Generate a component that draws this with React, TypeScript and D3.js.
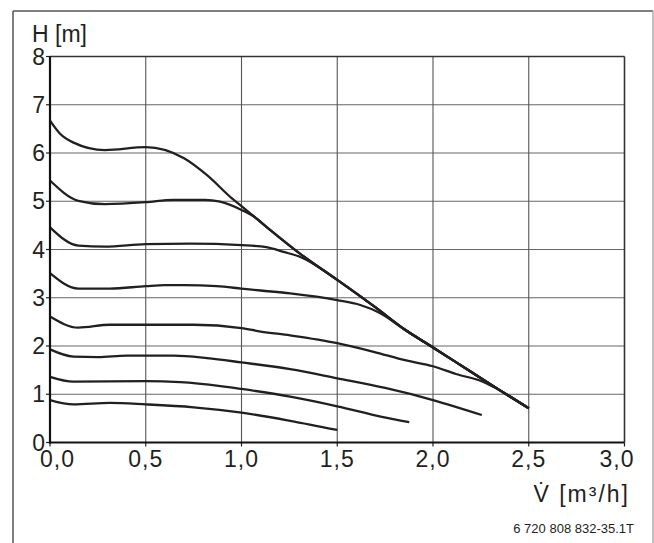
import React from "react";
import * as d3 from "d3";

// Flow rate V [m³/h] vs head H [m]
const xTicks = [0, 0.5, 1.0, 1.5, 2.0, 2.5, 3.0];
const xTickLabels = ["0,0", "0,5", "1,0", "1,5", "2,0", "2,5", "3,0"];
const yTicks = [0, 1, 2, 3, 4, 5, 6, 7, 8];
const yTickLabels = ["0", "1", "2", "3", "4", "5", "6", "7", "8"];

// common limit line (max curve envelope)
const envelope: [number, number][] = [
  [1.13, 4.47], [1.3, 3.93], [1.5, 3.37], [1.7, 2.8], [1.86, 2.32],
  [2.0, 1.97], [2.2, 1.46], [2.35, 1.08], [2.5, 0.71],
];

const stage1: [number, number][] = [
  [0, 6.67], [0.05, 6.41], [0.12, 6.22], [0.287, 6.06], [0.5, 6.12],
  [0.7, 5.89], [0.82, 5.54], [0.95, 5.06], [1.0, 4.9],
];
const stage2: [number, number][] = [
  [0, 5.43], [0.148, 5.01], [0.287, 4.94], [0.5, 4.98], [0.644, 5.03],
  [0.81, 5.03], [0.888, 4.99], [1.0, 4.82], [1.062, 4.69],
];
const stage3: [number, number][] = [
  [0, 4.46], [0.148, 4.08], [0.287, 4.06], [0.5, 4.11], [0.73, 4.12],
  [1.0, 4.09], [1.13, 4.05], [1.22, 3.95], [1.31, 3.84],
];
const stage4: [number, number][] = [
  [0, 3.51], [0.148, 3.19], [0.313, 3.19], [0.5, 3.24], [0.6, 3.26],
  [0.7, 3.26], [0.87, 3.24], [1.0, 3.19], [1.1, 3.15], [1.254, 3.09],
  [1.5, 2.95], [1.62, 2.85], [1.72, 2.69],
];
const stage5: [number, number][] = [
  [0, 2.61], [0.148, 2.38], [0.313, 2.44], [0.5, 2.44], [0.75, 2.44],
  [1.0, 2.37], [1.1, 2.3], [1.254, 2.22], [1.5, 2.06], [1.69, 1.88],
  [1.86, 1.7], [2.0, 1.58], [2.12, 1.42], [2.26, 1.26],
];
const stage6: [number, number][] = [
  [0, 1.93], [0.122, 1.78], [0.25, 1.77], [0.4, 1.8], [0.645, 1.8],
  [0.82, 1.75], [1.0, 1.66], [1.254, 1.52], [1.5, 1.33],
  [1.75, 1.13], [2.0, 0.88], [2.255, 0.57],
];
const stage7: [number, number][] = [
  [0, 1.36], [0.122, 1.26], [0.5, 1.27], [0.68, 1.25], [0.89, 1.17],
  [1.0, 1.11], [1.254, 0.95], [1.5, 0.75], [1.733, 0.53],
  [1.876, 0.42],
];
const stage8: [number, number][] = [
  [0, 0.88], [0.122, 0.79], [0.313, 0.82], [0.5, 0.79], [0.75, 0.73],
  [1.0, 0.62], [1.254, 0.45], [1.5, 0.26],
];

const withEnvelope = (head: [number, number][]) => {
  const last = head[head.length - 1][0];
  return head.concat(envelope.filter((p) => p[0] > last + 0.05));
};

const curves: [number, number][][] = [
  withEnvelope(stage1),
  withEnvelope(stage2),
  withEnvelope(stage3),
  withEnvelope(stage4),
  withEnvelope(stage5),
  stage6,
  stage7,
  stage8,
];

const W = 654;
const H = 543;
const FONT = "'Liberation Sans', Arial, Helvetica, sans-serif";

export default function App() {
  const x = d3.scaleLinear().domain([0, 3]).range([50, 624.5]);
  const y = d3.scaleLinear().domain([0, 8]).range([442.5, 56.5]);
  const line = d3
    .line<[number, number]>()
    .x((d) => x(d[0]))
    .y((d) => y(d[1]))
    .curve(d3.curveMonotoneX);

  const x0 = x(0), x1 = x(3), y0 = y(0), y1 = y(8);

  return (
    <svg
      width={W}
      height={H}
      style={{ position: "absolute", left: 0, top: 0, background: "#fff" }}
      fontFamily={FONT}
    >
      <rect x={0} y={0} width={W} height={H} fill="#fff" />
      {/* outer frame */}
      <line x1={13} y1={11} x2={653} y2={11} stroke="#555" strokeWidth={1.5} />
      <line x1={13} y1={11} x2={13} y2={H} stroke="#555" strokeWidth={1.5} />
      <line x1={653} y1={11} x2={653} y2={H} stroke="#aaa" strokeWidth={1.5} />

      {/* grid */}
      {yTicks.slice(1, -1).map((t) => (
        <line key={"gy" + t} x1={x0} x2={x1} y1={y(t)} y2={y(t)} stroke="#666" strokeWidth={1.1} />
      ))}
      {xTicks.slice(1, -1).map((t) => (
        <line key={"gx" + t} x1={x(t)} x2={x(t)} y1={y0} y2={y1} stroke="#555" strokeWidth={1.1} />
      ))}
      {/* top and right border */}
      <line x1={x0} x2={x1} y1={y1} y2={y1} stroke="#333" strokeWidth={1.6} />
      <line x1={x1} x2={x1} y1={y1} y2={y0} stroke="#333" strokeWidth={1.6} />

      {/* ticks */}
      {yTicks.map((t) => (
        <line key={"ty" + t} x1={x0 - 4} x2={x0} y1={y(t)} y2={y(t)} stroke="#222" strokeWidth={1.2} />
      ))}
      {xTicks.map((t) => (
        <line key={"tx" + t} x1={x(t)} x2={x(t)} y1={y0} y2={y0 + 4} stroke="#222" strokeWidth={1.2} />
      ))}

      {/* curves */}
      {curves.map((c, i) => (
        <path
          key={"c" + i}
          d={line(c) || ""}
          fill="none"
          stroke="#231f20"
          strokeWidth={2.3}
          strokeLinejoin="round"
          strokeLinecap="butt"
        />
      ))}

      {/* axes */}
      <line x1={x0} x2={x0} y1={y1} y2={y0 + 1} stroke="#111" strokeWidth={2.2} />
      <line x1={x0 - 1} x2={x1} y1={y0} y2={y0} stroke="#111" strokeWidth={2.2} />

      {/* y tick labels */}
      {yTicks.map((t, i) => (
        <text
          key={"ly" + t}
          x={45}
          y={y(t) + 8}
          textAnchor="end"
          fontSize={23}
          fill="#231f20"
        >
          {yTickLabels[i]}
        </text>
      ))}
      {/* x tick labels */}
      {xTicks.map((t, i) => {
        const shift = i === 0 ? 7.5 : i === xTicks.length - 1 ? -7.5 : 0;
        return (
          <text
            key={"lx" + t}
            x={x(t) + shift}
            y={467}
            textAnchor="middle"
            fontSize={23}
            letterSpacing={1}
            fill="#231f20"
          >
            {xTickLabels[i]}
          </text>
        );
      })}

      <text x={32} y={42} fontSize={23} fill="#231f20">
        H [m]
      </text>
      <text x={630} y={502} textAnchor="end" fontSize={23} letterSpacing={2} fill="#231f20">
        V̇ [m³/h]
      </text>
      <text x={634} y={533} textAnchor="end" fontSize={13} fill="#231f20">
        6 720 808 832-35.1T
      </text>
    </svg>
  );
}
